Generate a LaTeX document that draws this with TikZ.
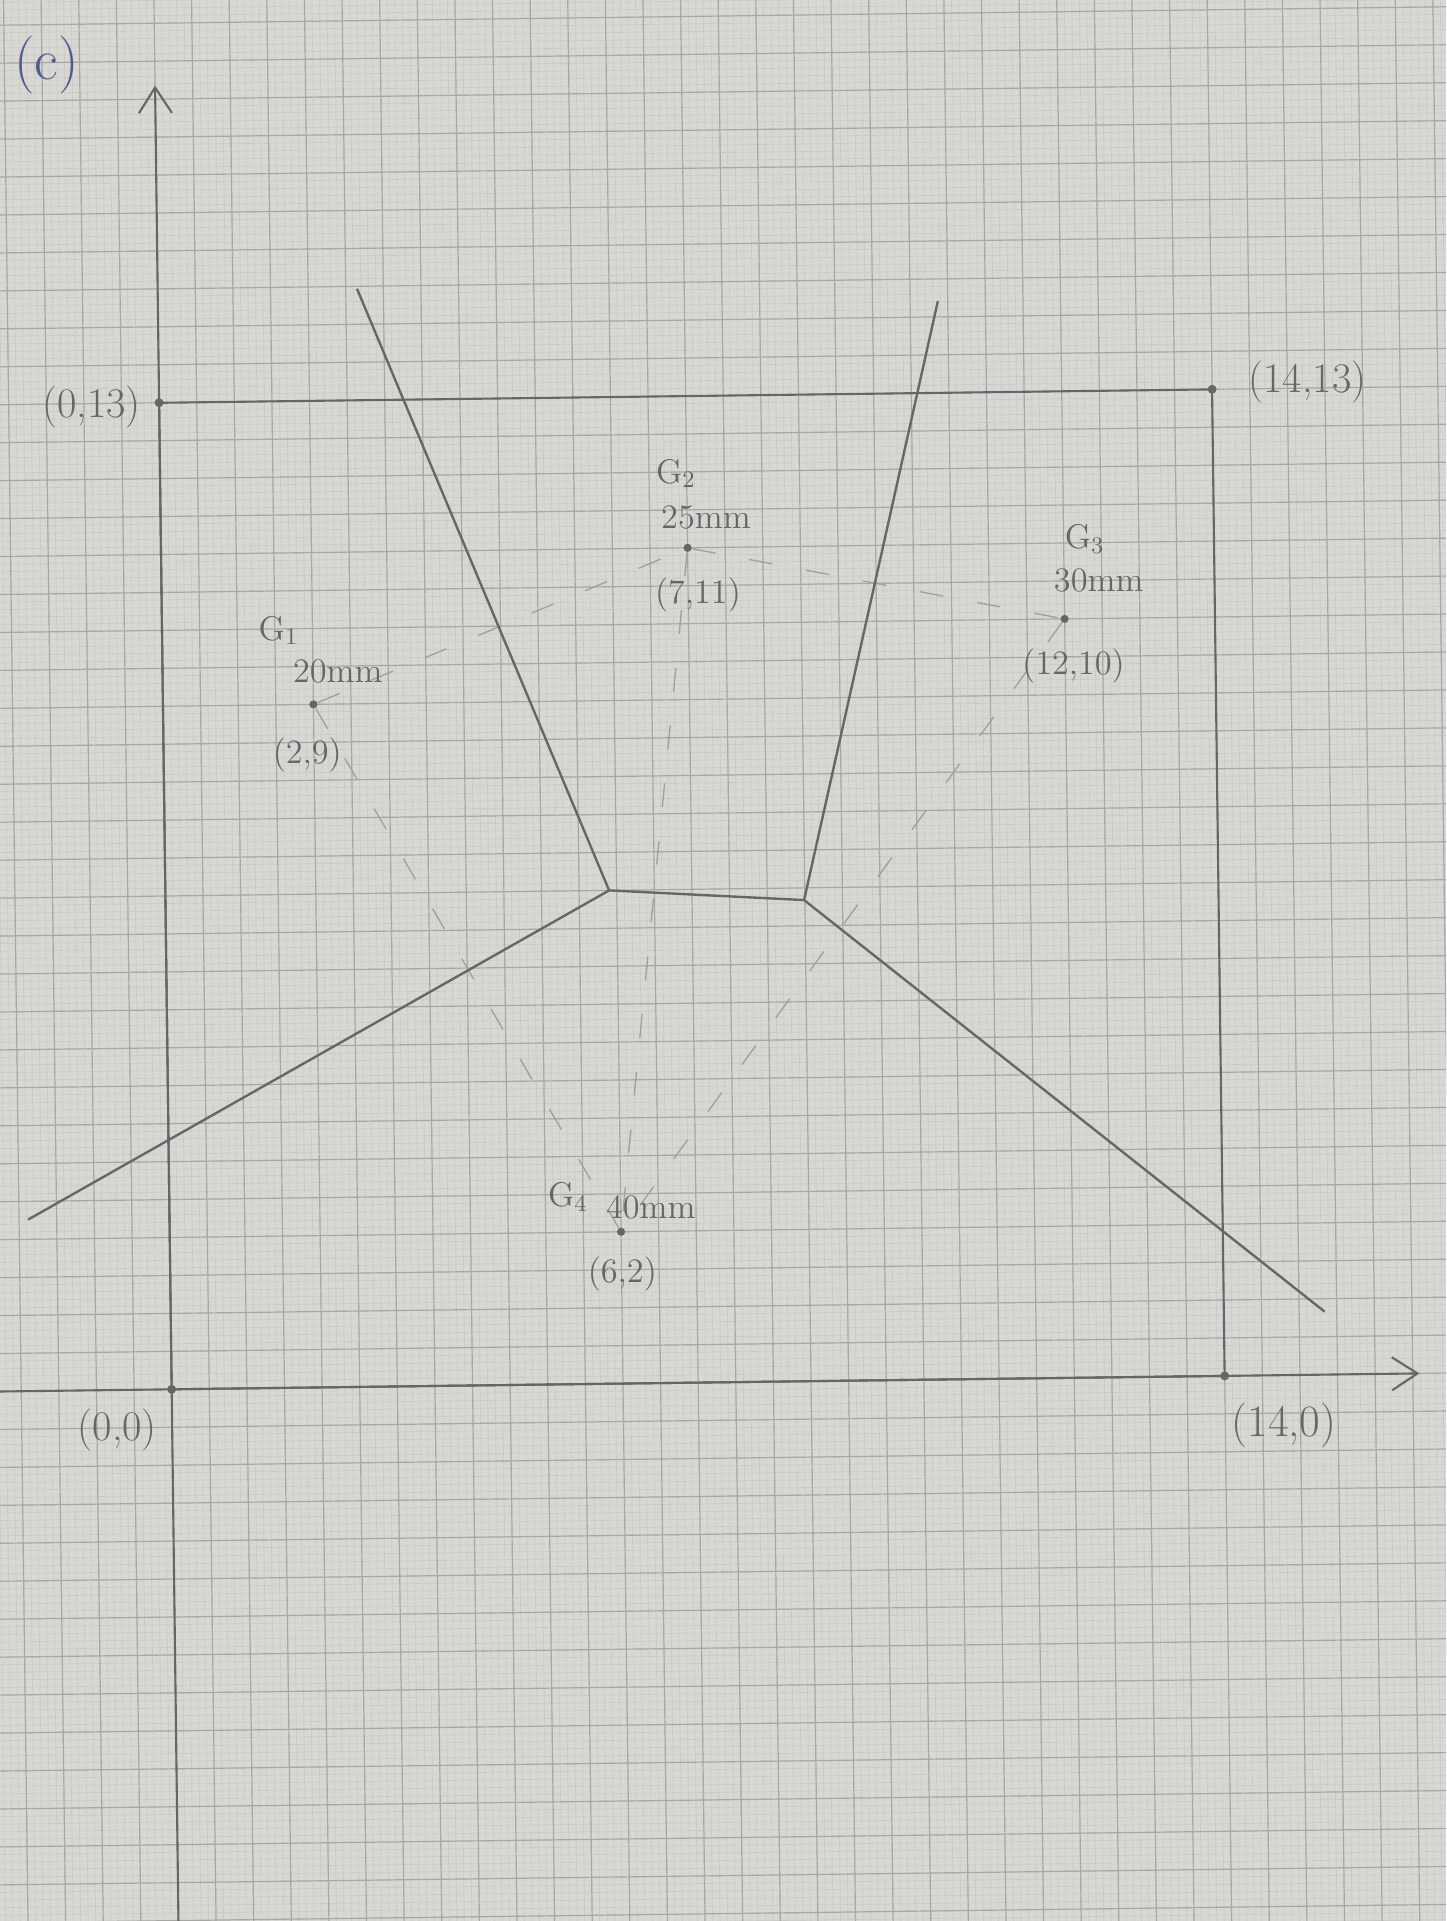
\documentclass[tikz,border=0pt]{standalone}
\usepackage{xcolor}
\definecolor{PaperGray}{HTML}{D9D7D3}
\definecolor{GridHalf}{HTML}{A8A7A4}
\definecolor{GridMilli}{HTML}{CAC9C5}
\definecolor{Pencil}{HTML}{666666}
\definecolor{PencilLight}{HTML}{A09F9C}
\definecolor{InkBlue}{HTML}{4E5C8C}
\usetikzlibrary{arrows.meta}

\begin{document}
\begin{tikzpicture}[>={Straight Barb[length=3.4mm,width=4.4mm]},
pencil/.style={draw=Pencil,line width=0.8pt},
cell/.style={draw=Pencil,line width=0.9pt},
guide/.style={draw=PencilLight,line width=0.5pt,dash pattern=on 9pt off 13pt},
site/.style={circle,fill=Pencil,inner sep=1.1pt},
corner/.style={circle,fill=Pencil,inner sep=1.2pt},
coordtag/.style={text=Pencil,font=\fontsize{16}{18}\selectfont,inner sep=0pt},
sitetag/.style={text=Pencil,font=\fontsize{13}{15}\selectfont,inner sep=0pt}]
% page and paper
\useasboundingbox (-2.289,-7.089) rectangle (16.991,18.524);
\fill[PaperGray] (-2.289,-7.089) rectangle (16.991,18.524);
\clip (-2.289,-7.089) rectangle (16.991,18.524);
\begin{scope}[rotate=0.73,x=1.003cm,y=1.012cm]
% graph paper
\draw[GridMilli,line width=0.25pt,step=0.1] (-3,-8) grid (18,20);
\draw[GridHalf,line width=0.45pt,step=0.5] (-3,-8) grid (18,20);

% axes
\coordinate (xfrom) at (-2.6,0);
\coordinate (xto) at (16.59,0);
\coordinate (yfrom) at (0,-7.4);
\coordinate (yto) at (0,17.18);
\draw[pencil,->] (xfrom) -- (xto);
\draw[pencil,->] (yfrom) -- (yto);

% bounding rectangle
\node[corner] (c00) at (0,0) {};
\node[corner] (c140) at (14,0) {};
\node[corner] (c1413) at (14,13) {};
\node[corner] (c013) at (0,13) {};
\draw[pencil] (c00.center) -- (c140.center) -- (c1413.center) -- (c013.center) -- cycle;

% sites
\node[site] (g1) at (2,9) {};
\node[site] (g2) at (7,11) {};
\node[site] (g3) at (12,10) {};
\node[site] (g4) at (6,2) {};

% joins between neighbouring sites
\draw[guide] (g1) -- (g2);
\draw[guide] (g2) -- (g3);
\draw[guide] (g1) -- (g4);
\draw[guide] (g2) -- (g4);
\draw[guide] (g3) -- (g4);

% cell edges
\coordinate (va) at (5.90,6.50);
\coordinate (vb) at (8.49,6.34);
\coordinate (rup1) at (2.65,14.47);
\coordinate (rup2) at (10.37,14.21);
\coordinate (rleft) at (-1.88,2.26);
\coordinate (rright) at (15.34,0.83);
\draw[cell] (rup1) -- (va) -- (vb) -- (rup2);
\draw[cell] (rleft) -- (va);
\draw[cell] (vb) -- (rright);

% corner labels
\node[coordtag] (t013) at (-0.90,12.95) {(0,13)};
\node[coordtag] (t1413) at (15.27,13.08) {(14,13)};
\node[coordtag] (t00) at (-0.73,-0.53) {(0,0)};
\node[coordtag,font=\fontsize{17}{19}\selectfont] (t140) at (14.78,-0.66) {(14,0)};

% site labels
\node[sitetag] (n1) at (1.55,9.98) {G$_1$};
\node[sitetag] (w1) at (2.33,9.43) {20mm};
\node[sitetag] (p1) at (1.91,8.34) {(2,9)};
\node[sitetag] (n2) at (6.86,11.98) {G$_2$};
\node[sitetag] (w2) at (7.25,11.40) {25mm};
\node[sitetag] (p2) at (7.13,10.38) {(7,11)};
\node[sitetag] (n3) at (12.28,11.05) {G$_3$};
\node[sitetag] (w3) at (12.46,10.50) {30mm};
\node[sitetag] (p3) at (12.11,9.38) {(12,10)};
\node[sitetag] (n4) at (5.30,2.47) {G$_4$};
\node[sitetag] (w4) at (6.40,2.32) {40mm};
\node[sitetag] (p4) at (6.01,1.45) {(6,2)};

% panel tag
\node[text=InkBlue,font=\fontsize{22}{24}\selectfont,inner sep=0pt] (panel) at (-1.44,17.47) {(c)};
\end{scope}
\end{tikzpicture}
\end{document}
